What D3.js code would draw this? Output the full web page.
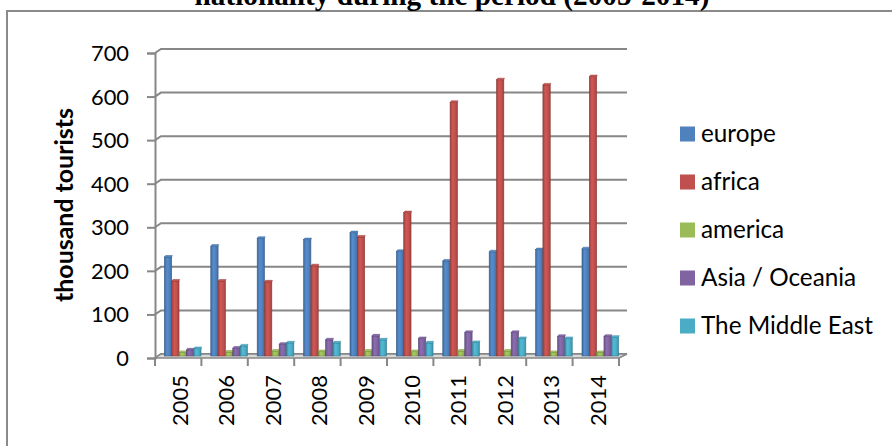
<!DOCTYPE html>
<html><head><meta charset="utf-8">
<script src="https://cdn.jsdelivr.net/npm/d3@7/dist/d3.min.js"></script>
<style>body{margin:0;background:#fff}svg{display:block}</style>
</head><body><svg id="c" width="892" height="446"></svg>
<script>
const years = ["2005","2006","2007","2008","2009","2010","2011","2012","2013","2014"];
const seriesNames = ["europe","africa","america","Asia / Oceania","The Middle East"];
const europe   = [227,252,270,267,283,240,218,239,244,246];
const africa   = [172,172,170,207,273,329,582,634,622,641];
const america  = [8,9,11,10,11,10,11,11,8,8];
const asia     = [14,18,27,37,46,40,54,54,45,45];
const mideast  = [17,23,30,30,37,30,31,40,40,43];
const yTicks = [0,100,200,300,400,500,600,700];
const colors = ["#4F81BD","#C0504D","#9BBB59","#8064A2","#4BACC6"];
const titleText = "nationality during the period (2005-2014)";
const yTitle = "thousand tourists";

const values = [europe, africa, america, asia, mideast];
const svg = d3.select("#c");
const FONT = "Lato, 'Open Sans', sans-serif";

function fit(sel, target){ const l = sel.node().getComputedTextLength(); const fs = +sel.attr("font-size"); return fs*target/l; }

// chart border
svg.append("rect").attr("x",7).attr("y",11).attr("width",900).attr("height",450)
  .attr("fill","none").attr("stroke","#8a8a8a").attr("stroke-width",2);

// title (cut off at top as in reference)
const t = svg.append("text").attr("x",452).attr("y",5).attr("text-anchor","middle")
  .attr("font-family","'Liberation Serif', serif").attr("font-weight","bold")
  .attr("font-size",24).text(titleText);
t.attr("font-size", fit(t,515));

const DX = 6, DY = 4;
const x0 = d3.scaleBand().domain(years).range([155,619]);
const bw = x0.bandwidth();
const x1 = d3.scaleBand().domain(seriesNames).range([0,bw*0.79]);
const yFront = d3.scaleLinear().domain([0,700]).range([358,53]);
const yBar = d3.scaleLinear().domain([0,700]).range([356,51]);
const gridColor = "#878787";

// gradients
const defs = svg.append("defs");
colors.forEach((c,i)=>{
  const g = defs.append("linearGradient").attr("id","g"+i).attr("x1","0").attr("x2","1").attr("y1","0").attr("y2","0");
  const base = d3.color(c);
  g.append("stop").attr("offset","0").attr("stop-color",base.darker(0.6));
  g.append("stop").attr("offset","0.35").attr("stop-color",base.brighter(0.25));
  g.append("stop").attr("offset","0.7").attr("stop-color",base);
  g.append("stop").attr("offset","1").attr("stop-color",base.darker(0.5));
});

// gridlines (back wall)
const grid = svg.append("g");
yTicks.forEach(v=>{
  const yf = yFront(v);
  grid.append("path")
    .attr("d",`M155,${yf} L${155+DX},${yf-DY} L627,${yf-DY}`)
    .attr("fill","none").attr("stroke",gridColor).attr("stroke-width",2);
});
// floor
svg.append("path")
  .attr("d",`M155,${yFront(0)} L619,${yFront(0)} L627,${yFront(0)-DY} L${155+DX},${yFront(0)-DY} Z`)
  .attr("fill","#d9d9d9").attr("stroke",gridColor).attr("stroke-width",1.5);

// y axis
const yAxis = d3.axisLeft(yFront).tickValues(yTicks).tickSize(8).tickPadding(18);
const ya = svg.append("g").attr("transform","translate(155,0)").call(yAxis);
ya.attr("font-size",null).attr("font-family",null);
ya.select(".domain").attr("stroke",gridColor).attr("stroke-width",2);
ya.selectAll(".tick line").attr("stroke",gridColor).attr("stroke-width",2);
const yt = ya.selectAll("text").attr("font-family",FONT).attr("font-size",22).attr("fill","#000").attr("dy","0.34em");
const ytFs = fit(ya.selectAll("text").filter(d=>d===700), 38);
yt.attr("font-size", ytFs);

// x axis ticks at band boundaries
const xa = svg.append("g");
const bounds = years.map(y=>x0(y)).concat([619]);
bounds.forEach(b=>{
  xa.append("line").attr("x1",b).attr("x2",b).attr("y1",yFront(0)).attr("y2",yFront(0)+8)
    .attr("stroke",gridColor).attr("stroke-width",2);
});
const xl = xa.selectAll("text.xl").data(years).enter().append("text").attr("class","xl")
  .attr("transform",d=>`translate(${x0(d)+bw/2+2},375) rotate(-90)`)
  .attr("text-anchor","end").attr("dy","0.35em")
  .attr("font-family",FONT).attr("font-size",22).attr("fill","#000").text(d=>d);
xl.attr("font-size", fit(xl.filter((d,i)=>i===0), 51));

// bars
const groupOff = (bw - bw*0.79)/2 + 4.5;
const bars = svg.append("g");
years.forEach((yr,i)=>{
  seriesNames.forEach((s,k)=>{
    const v = values[k][i];
    const x = x0(yr) + groupOff + x1(s);
    const w = x1.bandwidth();
    const ytop = yBar(v), yb = yBar(0);
    bars.append("rect").attr("x",x).attr("y",ytop).attr("width",w).attr("height",Math.max(0,yb-ytop))
      .attr("fill",`url(#g${k})`).attr("stroke",d3.color(colors[k]).darker(0.9)).attr("stroke-width",0.6);
    bars.append("path").attr("d",`M${x},${ytop} L${x+1.2},${ytop-1.6} L${x+w+0.6},${ytop-1.6} L${x+w},${ytop} Z`)
      .attr("fill",d3.color(colors[k]).brighter(0.3)).attr("stroke",d3.color(colors[k]).darker(0.9)).attr("stroke-width",0.5);
  });
});

// y title
const yti = svg.append("text").attr("transform","translate(64,205) rotate(-90)")
  .attr("text-anchor","middle").attr("dy","0.35em")
  .attr("font-family",FONT).attr("font-weight","bold").attr("font-size",20).attr("fill","#000").text(yTitle);
yti.attr("font-size", fit(yti,194));

// legend
const lg = svg.append("g");
const lt = [];
seriesNames.forEach((s,k)=>{
  const cy = 134 + k*48;
  lg.append("rect").attr("x",680).attr("y",cy-7.5).attr("width",15).attr("height",15).attr("fill",colors[k]);
  lt.push(lg.append("text").attr("x",701).attr("y",cy).attr("dy","0.35em")
    .attr("font-family",FONT).attr("font-size",22).attr("fill","#000").text(s));
});
const lfs = fit(lt[4],172);
lt.forEach(s=>s.attr("font-size",lfs));
</script></body></html>
